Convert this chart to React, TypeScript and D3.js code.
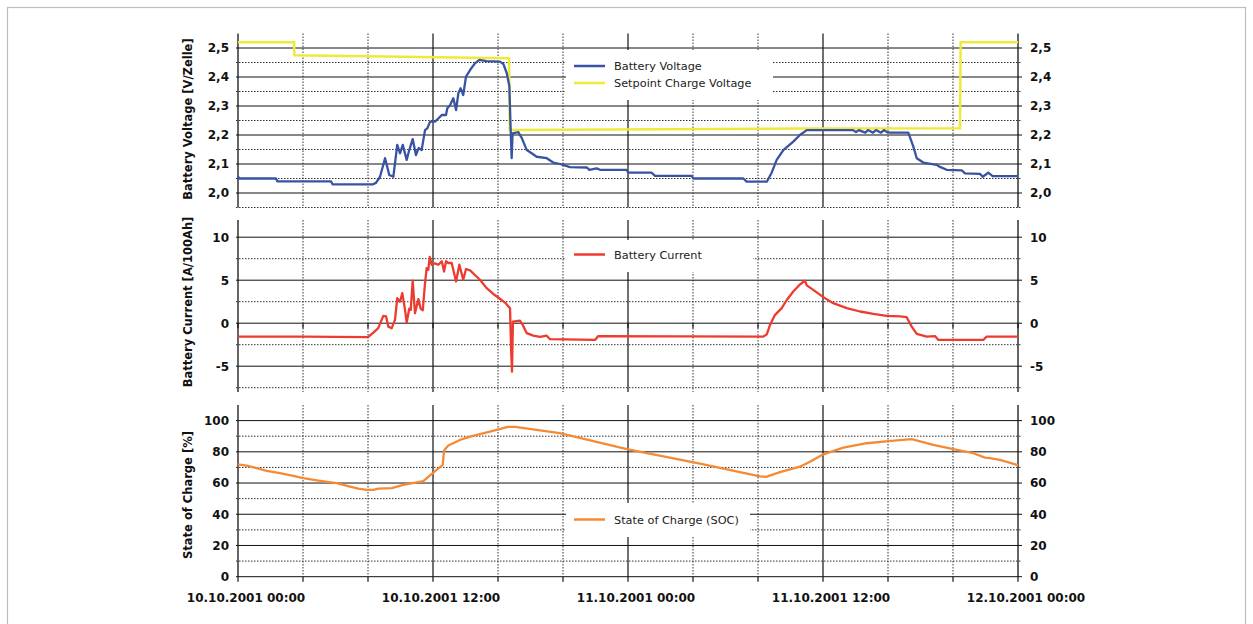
import React from "react";
import * as d3 from "d3";

// ---- Data (hours since 10.10.2001 00:00, value) ----
const batteryVoltage: [number, number][] = [
  [0, 2.058], [0.06, 2.05], [2.34, 2.05], [2.43, 2.04], [5.72, 2.04], [5.82, 2.03], [8.31, 2.03],
  [8.49, 2.035], [8.74, 2.056], [9.05, 2.12], [9.31, 2.062], [9.56, 2.056], [9.8, 2.166], [9.97, 2.137],
  [10.14, 2.166], [10.38, 2.114], [10.54, 2.148], [10.75, 2.186], [10.95, 2.131], [11.12, 2.155],
  [11.3, 2.148], [11.51, 2.217], [11.65, 2.223], [11.82, 2.246], [12.12, 2.246], [12.33, 2.257],
  [12.54, 2.269], [12.8, 2.269], [12.88, 2.292], [13.05, 2.303], [13.25, 2.327], [13.42, 2.286],
  [13.56, 2.344], [13.7, 2.361], [13.86, 2.338], [14.03, 2.401], [14.28, 2.424], [14.58, 2.447],
  [14.85, 2.459], [15.3, 2.455], [16.12, 2.453], [16.33, 2.445], [16.54, 2.413], [16.7, 2.368],
  [16.78, 2.217], [16.84, 2.12], [16.9, 2.206], [17.25, 2.21], [17.46, 2.19], [17.77, 2.148],
  [18.07, 2.137], [18.38, 2.125], [19.0, 2.12], [19.4, 2.105], [19.82, 2.1], [20.43, 2.089],
  [21.46, 2.088], [21.62, 2.08], [22.07, 2.085], [22.28, 2.08], [23.92, 2.08], [24.02, 2.07],
  [25.46, 2.07], [25.66, 2.059], [27.92, 2.059], [28.02, 2.05], [31.1, 2.05], [31.3, 2.039],
  [32.54, 2.039], [32.84, 2.07], [33.15, 2.114], [33.56, 2.148], [34.17, 2.177], [34.58, 2.2],
  [35.0, 2.217], [37.85, 2.217], [38.03, 2.21], [38.2, 2.217], [38.6, 2.208], [38.77, 2.217],
  [39.08, 2.208], [39.26, 2.217], [39.57, 2.208], [39.75, 2.217], [39.94, 2.21], [40.15, 2.208],
  [41.25, 2.208], [41.56, 2.16], [41.77, 2.12], [42.17, 2.105], [42.99, 2.097], [43.2, 2.09],
  [43.61, 2.08], [44.54, 2.078], [44.74, 2.068], [45.66, 2.066], [45.83, 2.056], [46.17, 2.07],
  [46.44, 2.058], [48, 2.058],
];

const setpointVoltage: [number, number][] = [
  [0, 2.52], [3.45, 2.52], [3.47, 2.475], [16.68, 2.465], [16.72, 2.217], [35, 2.222],
  [44.43, 2.223], [44.47, 2.52], [48, 2.52],
];

const batteryCurrent: [number, number][] = [
  [0, -1.55], [4, -1.57], [8.0, -1.62], [8.33, -1.09], [8.63, -0.58], [8.94, 0.85], [9.11, 0.8],
  [9.25, -0.4], [9.46, -0.58], [9.66, 0.38], [9.8, 2.9], [9.97, 2.5], [10.11, 3.5], [10.28, 1.55],
  [10.38, 0.07], [10.54, 1.7], [10.63, 1.55], [10.75, 4.95], [10.89, 1.16], [11.1, 2.8], [11.24, 1.7],
  [11.37, 1.5], [11.51, 4.65], [11.61, 6.4], [11.71, 6.2], [11.8, 7.7], [11.92, 6.8], [12.12, 6.95],
  [12.33, 6.8], [12.54, 7.2], [12.68, 6.0], [12.8, 7.2], [12.94, 7.0], [13.15, 7.0], [13.42, 4.85],
  [13.62, 6.8], [13.86, 5.05], [14.03, 6.3], [14.28, 6.15], [14.58, 5.6], [14.89, 5.05], [15.3, 4.08],
  [15.71, 3.4], [16.08, 2.9], [16.43, 2.4], [16.74, 1.75], [16.8, -2.7], [16.86, -5.63], [16.92, 0.19],
  [17.35, 0.3], [17.52, -0.2], [17.77, -1.16], [18.17, -1.45], [18.58, -1.6], [19.0, -1.45],
  [19.2, -1.86], [21.97, -1.95], [22.17, -1.5], [32.33, -1.55], [32.54, -1.3], [32.74, -0.2],
  [33.05, 0.97], [33.46, 1.75], [33.77, 2.7], [34.17, 3.68], [34.58, 4.5], [34.89, 4.95], [35.0, 4.4],
  [35.4, 3.88], [36.02, 3.03], [36.63, 2.33], [37.46, 1.75], [38.28, 1.36], [39.1, 1.08],
  [39.92, 0.85], [40.74, 0.8], [41.15, 0.7], [41.46, -0.4], [41.77, -1.25], [42.38, -1.55],
  [42.89, -1.5], [43.1, -1.95], [45.86, -1.95], [46.07, -1.56], [48, -1.56],
];

const stateOfCharge: [number, number][] = [
  [0, 72], [0.54, 71.2], [1.15, 69.5], [1.77, 67.8], [2.58, 66.3], [3.4, 64.6], [4.02, 63.1],
  [5.05, 61.4], [6.07, 59.9], [6.89, 57.7], [7.4, 56.4], [7.92, 55.6], [8.33, 55.6], [8.63, 56.4],
  [9.46, 56.7], [10.17, 58.8], [11.4, 61.3], [12.02, 66.7], [12.6, 71.6], [12.68, 80.8], [12.94, 84.0],
  [13.66, 87.6], [14.28, 89.7], [15.5, 93], [16.6, 96], [17.05, 96], [19.8, 92], [24, 81.5],
  [28.43, 72.5], [32.12, 64.3], [32.5, 64], [33.35, 67], [34.58, 70.5], [35.2, 73.7], [36.02, 78.4],
  [37.25, 82.7], [38.69, 85.5], [40.02, 86.8], [41.46, 88.1], [42.79, 84.5], [44.02, 81.7],
  [45.25, 79.1], [45.97, 76.3], [46.28, 75.9], [46.89, 74.8], [48, 71.5],
];

const xGridHours = [0, 4, 8, 12, 16, 20, 24, 28, 32, 36, 40, 44, 48];
const xLabelHours = [0, 12, 24, 36, 48];
const xLabels = ["10.10.2001 00:00", "10.10.2001 12:00", "11.10.2001 00:00", "11.10.2001 12:00", "12.10.2001 00:00"];

const voltageMajor = [2.0, 2.1, 2.2, 2.3, 2.4, 2.5];
const voltageMinor = [1.95, 2.05, 2.15, 2.25, 2.35, 2.45];
const voltageLabels = ["2,0", "2,1", "2,2", "2,3", "2,4", "2,5"];
const currentMajor = [-5, 0, 5, 10];
const currentMinor = [-7.5, -2.5, 2.5, 7.5];
const currentLabels = ["-5", "0", "5", "10"];
const socMajor = [0, 20, 40, 60, 80, 100];
const socMinor = [10, 30, 50, 70, 90];
const socLabels = ["0", "20", "40", "60", "80", "100"];

const X0 = 238, X1 = 1018;
const x = d3.scaleLinear().domain([0, 48]).range([X0, X1]);

const FONT_TICK = "'DejaVu Sans', sans-serif";
const DOT = "1.5,1.5";

type PanelProps = {
  y: d3.ScaleLinear<number, number>;
  major: number[];
  minor: number[];
  labels: string[];
  title: string;
  titleY: number;
  zeroTicks?: number;
};

function Panel({ y, major, minor, labels, title, titleY, zeroTicks }: PanelProps) {
  const [yb, yt] = y.range();
  return (
    <g>
      {minor.map((v) => (
        <line key={"mi" + v} x1={X0 - 2} x2={X1 + 4} y1={y(v)} y2={y(v)} stroke="#333" strokeWidth={1} strokeDasharray={DOT} />
      ))}
      {major.map((v) => (
        <line key={"ma" + v} x1={X0 - 2} x2={X1 + 4} y1={y(v)} y2={y(v)} stroke="#111" strokeWidth={1} />
      ))}
      {xGridHours.filter((h) => h > 0 && h < 48).map((h) => (
        <line key={"v" + h} x1={x(h)} x2={x(h)} y1={yt} y2={yb}
          stroke={h % 12 === 0 ? "#111" : "#333"} strokeWidth={h % 12 === 0 ? 1.2 : 1}
          strokeDasharray={h % 12 === 0 ? undefined : DOT} />
      ))}
      {zeroTicks !== undefined && xGridHours.map((h) => (
        <line key={"zt" + h} x1={x(h)} x2={x(h)} y1={y(zeroTicks)} y2={y(zeroTicks) + 5} stroke="#111" strokeWidth={1.2} />
      ))}
      <line x1={X0} x2={X0} y1={yt} y2={yb} stroke="#111" strokeWidth={1.3} />
      <line x1={X1} x2={X1} y1={yt} y2={yb} stroke="#111" strokeWidth={1.3} />
      {major.map((v, i) => (
        <g key={"l" + v}>
          <text x={229} y={y(v)} dy="0.36em" textAnchor="end" fontFamily={FONT_TICK} fontWeight="bold" fontSize={12} fill="#111">{labels[i]}</text>
          <text x={1030} y={y(v)} dy="0.36em" textAnchor="start" fontFamily={FONT_TICK} fontWeight="bold" fontSize={12} fill="#111">{labels[i]}</text>
        </g>
      ))}
      <text transform={`translate(192,${titleY}) rotate(-90)`} textAnchor="middle" fontFamily={FONT_TICK}
        fontWeight="bold" fontSize={11.5} fill="#111">{title}</text>
    </g>
  );
}

function Legend({ x0, y0, w, h, items }: { x0: number; y0: number; w: number; h: number; items: { label: string; color: string; y: number }[] }) {
  return (
    <g>
      <rect x={x0} y={y0} width={w} height={h} fill="#fff" />
      {items.map((it) => (
        <g key={it.label}>
          <line x1={574} x2={605} y1={it.y} y2={it.y} stroke={it.color} strokeWidth={2.5} />
          <text x={614} y={it.y} dy="0.36em" fontFamily={FONT_TICK} fontSize={11.3} fill="#222">{it.label}</text>
        </g>
      ))}
    </g>
  );
}

export default function App() {
  const yV = d3.scaleLinear().domain([1.95, 2.55]).range([207.5, 33.5]);
  const yC = d3.scaleLinear().domain([-8, 12]).range([392, 220]);
  const yS = d3.scaleLinear().domain([0, 110]).range([576.7, 405]);

  const lineV = d3.line<[number, number]>().x((d) => x(d[0])).y((d) => yV(d[1]));
  const lineC = d3.line<[number, number]>().x((d) => x(d[0])).y((d) => yC(d[1]));
  const lineS = d3.line<[number, number]>().x((d) => x(d[0])).y((d) => yS(d[1]));

  return (
    <svg width={1253} height={624} style={{ position: "absolute", left: 0, top: 0, background: "#fff" }}>
      <rect x={7.5} y={7.5} width={1238} height={700} fill="none" stroke="#bdbdbd" strokeWidth={1.2} />

      <Panel y={yV} major={voltageMajor} minor={voltageMinor} labels={voltageLabels}
        title="Battery Voltage [V/Zelle]" titleY={119} />
      <Panel y={yC} major={currentMajor} minor={currentMinor} labels={currentLabels}
        title="Battery Current [A/100Ah]" titleY={302} zeroTicks={0} />
      <Panel y={yS} major={socMajor} minor={socMinor} labels={socLabels}
        title="State of Charge [%]" titleY={495} zeroTicks={0} />

      <Legend x0={566} y0={50} w={207} h={50} items={[
        { label: "Battery Voltage", color: "#3953a4", y: 66 },
        { label: "Setpoint Charge Voltage", color: "#eeea3a", y: 83 },
      ]} />
      <Legend x0={566} y0={240} w={187} h={32} items={[
        { label: "Battery Current", color: "#ee3b30", y: 254.5 },
      ]} />
      <Legend x0={566} y0={503} w={184} h={34} items={[
        { label: "State of Charge (SOC)", color: "#f58a35", y: 519.5 },
      ]} />

      <path d={lineV(setpointVoltage) || ""} fill="none" stroke="#eeea3a" strokeWidth={2.5} />
      <path d={lineV(batteryVoltage) || ""} fill="none" stroke="#3953a4" strokeWidth={2.3} strokeLinejoin="round" />
      <path d={lineC(batteryCurrent) || ""} fill="none" stroke="#ee3b30" strokeWidth={2.3} strokeLinejoin="round" />
      <path d={lineS(stateOfCharge) || ""} fill="none" stroke="#f58a35" strokeWidth={2.3} strokeLinejoin="round" />

      {xLabelHours.map((h, i) => (
        <text key={h} x={x(h) + 8} y={602} textAnchor="middle" fontFamily={FONT_TICK} fontWeight="bold" fontSize={12} fill="#111">{xLabels[i]}</text>
      ))}
    </svg>
  );
}
